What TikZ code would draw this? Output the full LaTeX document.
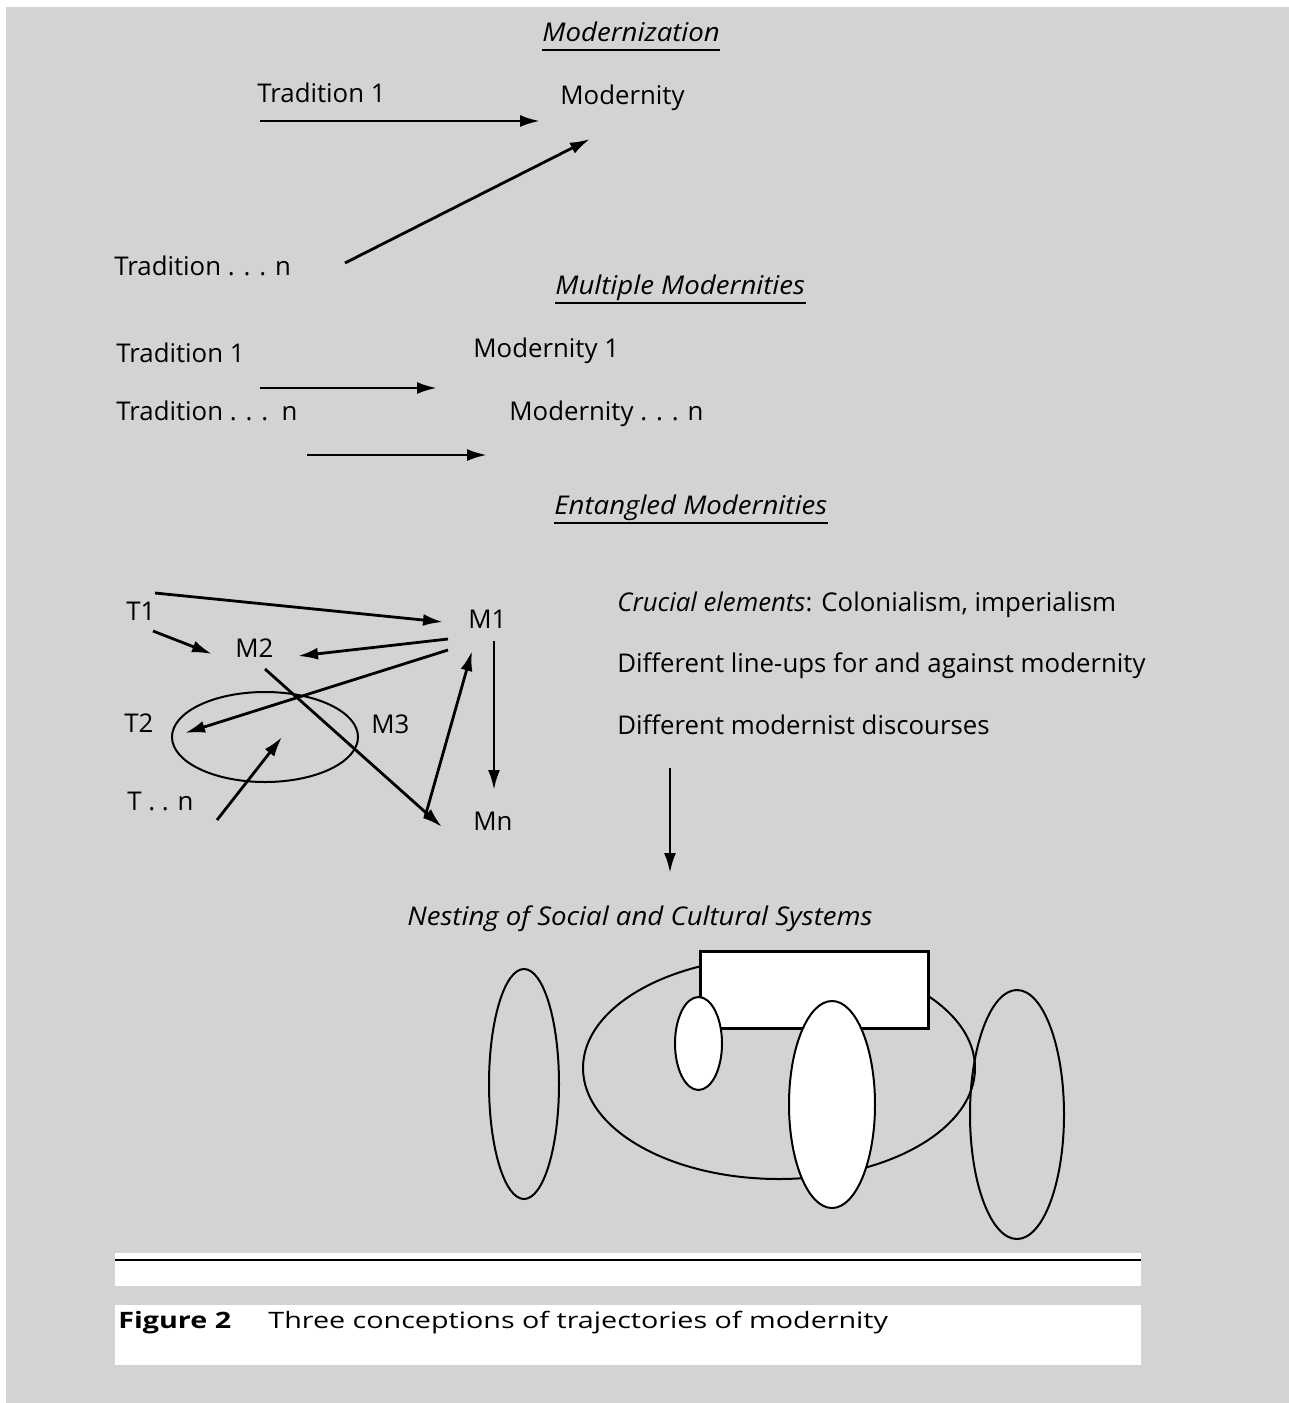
\documentclass[tikz,border=0pt]{standalone}
\usepackage{fontspec}
\setmainfont{Open Sans}
\newfontfamily\wideit{Open Sans}[FakeStretch=1.07]
\newfontfamily\capfont{Open Sans}[FakeStretch=1.27]
\usetikzlibrary{arrows.meta,shapes.geometric}
\definecolor{bg}{RGB}{211,211,211}
\begin{document}
\begin{tikzpicture}[x=0.5pt,y=-0.5pt,
  font=\fontsize{12.9}{15}\selectfont,
  lbl/.style={inner sep=0pt, anchor=base west},
  head/.style={lbl, font=\fontsize{12.9}{15}\selectfont\wideit\itshape},
  arr/.style={line width=1.4pt, -{Latex[length=10pt,width=6pt]}},
  uline/.style={line width=0.9pt},
  oval/.style={draw, ellipse, line width=1pt, inner sep=0pt},
  whiteoval/.style={oval, fill=white}]
\useasboundingbox (0,0) rectangle (1289,1403);
\fill[white] (0,0) rectangle (1289,1403);
\fill[bg] (6,7) rectangle (1289,1403);

% Modernization
\node[head] (mz) at (542,41) {Modernization};
\draw[uline] ([yshift=-4.5pt]mz.base west) -- ([yshift=-4.5pt]mz.base east);
\node[lbl] (trad1) at (257,102) {Tradition 1};
\node[lbl] (mod) at (560,104) {Modernity};
\node[lbl] (tradn) at (114,275) {Tradition . . . n};
\coordinate (a1s) at (260,121); \coordinate (a1e) at (540,121);
\coordinate (a2s) at (345,263); \coordinate (a2e) at (590,139);
\draw[arr] (a1s) -- (a1e);
\draw[arr] (a2s) -- (a2e);

% Multiple Modernities
\node[head] (mm) at (555,294) {Multiple Modernities};
\draw[uline] ([yshift=-4.5pt]mm.base west) -- ([yshift=-4.5pt]mm.base east);
\node[lbl] (trad1b) at (116,362) {Tradition 1};
\node[lbl] (mod1) at (473,357) {Modernity 1};
\node[lbl] (tradnb) at (116,420) {Tradition . . .\ \ n};
\node[lbl] (modn) at (509,420) {Modernity . . . n};
\coordinate (b1s) at (260,388); \coordinate (b1e) at (437,388);
\coordinate (b2s) at (307,455); \coordinate (b2e) at (487,455);
\draw[arr] (b1s) -- (b1e);
\draw[arr] (b2s) -- (b2e);

% Entangled Modernities
\node[head] (em) at (554,514) {Entangled Modernities};
\draw[uline] ([yshift=-4.5pt]em.base west) -- ([yshift=-4.5pt]em.base east);
\node[lbl] (T1) at (126,620) {T1};
\node[lbl] (M1) at (468,628) {M1};
\node[lbl] (M2) at (235,657) {M2};
\node[lbl] (T2) at (124,732) {T2};
\node[lbl] (M3) at (371,733) {M3};
\node[lbl] (Tn) at (127,810) {T . . n};
\node[lbl] (Mn) at (473,830) {Mn};
\node[oval, minimum width=93pt, minimum height=45pt] (ring) at (265,737) {};
\coordinate (c1s) at (155,593); \coordinate (c1e) at (443,622);
\coordinate (c2s) at (153,631); \coordinate (c2e) at (212,654);
\coordinate (c3s) at (448,639); \coordinate (c3e) at (298,656);
\coordinate (c4s) at (448,650); \coordinate (c4e) at (185,733);
\coordinate (c5s) at (265,669); \coordinate (c5e) at (442,827);
\coordinate (c6s) at (425,817); \coordinate (c6e) at (472,651);
\coordinate (c7s) at (494,641); \coordinate (c7e) at (494,790);
\coordinate (c8s) at (217,820); \coordinate (c8e) at (282,737);
\foreach \i in {1,...,8} {\draw[arr] (c\i s) -- (c\i e);}

\node[lbl] (cr) at (617,611) {\textit{Crucial elements}: Colonialism, imperialism};
\node[lbl] (lu) at (617,672) {Different line-ups for and against modernity};
\node[lbl] (md) at (617,734) {Different modernist discourses};
\coordinate (ds) at (670,768); \coordinate (de) at (670,873);
\draw[arr] (ds) -- (de);

% Nesting
\node[head] (nest) at (407,925) {Nesting of Social and Cultural Systems};
\node[oval, minimum width=35pt, minimum height=115pt] (sysL) at (524,1084) {};
\node[oval, minimum width=196pt, minimum height=111pt] (sysBig) at (779,1068) {};
\node[draw, fill=white, line width=1.5pt, inner sep=0pt, minimum width=114pt, minimum height=38.5pt] (sysRect) at (814,989.5) {};
\node[whiteoval, minimum width=23.5pt, minimum height=46.5pt] (sysS) at (698.5,1043.5) {};
\node[whiteoval, minimum width=43pt, minimum height=103.5pt] (sysM) at (832,1104.5) {};
\node[oval, minimum width=47pt, minimum height=124.5pt] (sysR) at (1017,1114.5) {};

% Caption
\fill[white] (115,1253) rectangle (1141,1286);
\draw[line width=1pt] (115,1260) -- (1141,1260);
\fill[white] (115,1305) rectangle (1141,1365);
\node[lbl, font=\fontsize{11.3}{14}\selectfont\capfont\bfseries] (figno) at (118,1328) {Figure 2};
\node[lbl, font=\fontsize{11.3}{14}\selectfont\capfont] (cap) at (268,1328) {Three conceptions of trajectories of modernity};
\end{tikzpicture}
\end{document}
